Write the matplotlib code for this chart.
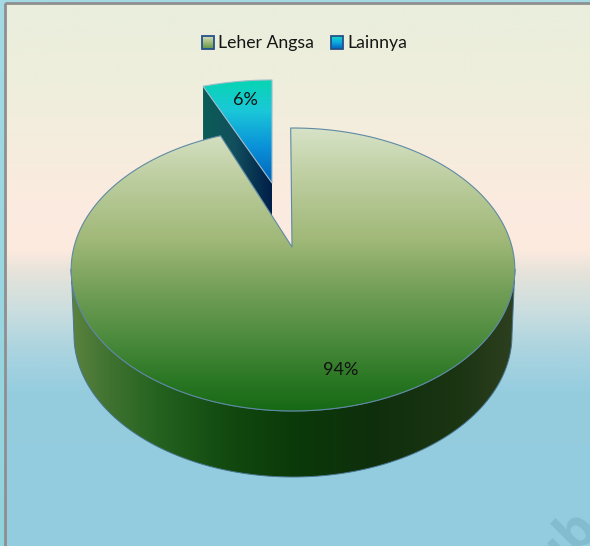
import numpy as np
import matplotlib
matplotlib.use("Agg")
import matplotlib.pyplot as plt
from matplotlib.patches import Polygon, Rectangle
from matplotlib.colors import to_rgb

categories = ["Leher Angsa", "Lainnya"]
values = [94, 6]

FONT = "Lato"
W, H = 590, 546
fig = plt.figure(figsize=(W / 100, H / 100), dpi=100)
ax = fig.add_axes([0, 0, 1, 1])


def grad(stops, n=546):
    pos = np.array([s[0] for s in stops], float)
    cols = np.array([to_rgb(s[1]) for s in stops])
    t = np.linspace(pos[0], pos[-1], n)
    return np.stack([np.interp(t, pos, cols[:, i]) for i in range(3)], axis=-1)


def vgrad(box, stops, clip=None, z=1):
    x0, x1, y0, y1 = box
    img = grad(stops)[:, None, :]
    im = ax.imshow(img, extent=[x0, x1, y1, y0], aspect="auto", zorder=z, interpolation="bilinear")
    if clip is not None:
        im.set_clip_path(clip)
    return im


def hgrad(box, stops, clip=None, z=1):
    x0, x1, y0, y1 = box
    img = grad(stops)[None, :, :]
    im = ax.imshow(img, extent=[x0, x1, y1, y0], aspect="auto", zorder=z, interpolation="bilinear")
    if clip is not None:
        im.set_clip_path(clip)
    return im


def shape(pts, z, edge="#3f6f8c", lw=0.9):
    p = Polygon(pts, closed=True, facecolor="none", edgecolor="none", transform=ax.transData)
    ax.add_patch(p)
    o = Polygon(pts, closed=True, facecolor="none", edgecolor=edge, lw=lw, zorder=z + 0.5, joinstyle="round")
    ax.add_patch(o)
    return p


def project(theta, ax0, ay0, a, c, b, r=1.0):
    u, v = r * np.sin(theta), r * np.cos(theta)
    d = 1 + b * v
    return np.column_stack([ax0 + c * u / d, ay0 - a * v / d])


# page behind the chart and the chart frame
vgrad((0, W, 0, H), [(0, "#a4dbe4"), (1, "#8fd3df")], z=0)
vgrad((6, W, 4, H), [(4, "#eaeedc"), (100, "#f0eedd"), (200, "#fbebdf"), (250, "#fdeadf"),
                     (272, "#e6e3da"), (310, "#cbdedf"), (350, "#abd4df"), (392, "#95cddf"),
                     (546, "#92ccde")], z=0.5)
ax.add_patch(Rectangle((5, 3), W, H, facecolor="none", edgecolor="#8f8f8f", lw=2, zorder=0.8))
ax.text(565, 543, "ub", rotation=45, rotation_mode="anchor", ha="center", va="center",
        fontsize=38, fontweight="bold", family="Open Sans", color="#84bccf", zorder=0.9)

# pie geometry
fracs = np.array(values, float) / sum(values)
sweep_main = 2 * np.pi * fracs[0]
sweep_other = 2 * np.pi * fracs[1]
DEPTH = 66
B = 0.159
START = np.deg2rad(-0.7)

# exploded small slice
th = np.linspace(-sweep_other, 0, 40)
arc = project(th, 272, 183, 119.4, 215, B)
apex = np.array([[272, 183]])
wall = np.vstack([arc[0], arc[0] + [0, DEPTH], apex + [0, DEPTH], apex])
hgrad((203, 272, 80, 260), [(0, "#0a5d56"), (0.45, "#124f5e"), (1, "#001e48")],
      clip=shape(wall, 2, edge="none", lw=0), z=2)
face = np.vstack([apex, arc])
vgrad((200, 275, 78, 185), [(0, "#06d6b0"), (0.3, "#1ac8d8"), (0.65, "#0a90d8"), (1, "#0060b8")],
      clip=shape(face, 3, edge="#9dbccb", lw=0.8), z=3)

# main slice
tt = np.linspace(START, START + sweep_main, 500)
main_arc = project(tt, 293, 247, 137.9, 219, B)
left = main_arc[:, 0].argmin()
right = main_arc[:, 0].argmax()
lower = main_arc[right:left + 1]
e = np.linspace(0, np.pi, 200)
bottom = np.column_stack([293 - 219 * np.cos(e), 335 + 142 * np.sin(e)])
wall_pts = np.vstack([lower, bottom])
hgrad((70, 516, 260, 480), [(0, "#5d8340"), (0.09, "#3f7230"), (0.2, "#24621f"), (0.35, "#124a10"),
                            (0.5, "#0b3a09"), (0.68, "#0f2f0c"), (0.88, "#1c3513"), (1, "#2e4020")],
      clip=shape(wall_pts, 4, edge="#47758f", lw=0.7), z=4)
top = np.vstack([[[292, 247]], main_arc])
vgrad((70, 516, 127, 412), [(127, "#d8e3c8"), (180, "#bccd9e"), (240, "#a0b878"), (290, "#739f58"),
                            (340, "#4b8a3c"), (380, "#2a7724"), (412, "#166814")],
      clip=shape(top, 5, edge="#5f8aa3", lw=0.8), z=5)

# labels
ax.text(245, 100, f"{values[1]}%", ha="center", va="center", fontsize=13, family=FONT, color="#111111", zorder=8)
ax.text(341, 370, f"{values[0]}%", ha="center", va="center", fontsize=13, family=FONT, color="#111111", zorder=8)

# legend
legend_x = [202, 331]
legend_stops = [[(0, "#d3e0bf"), (0.5, "#a0b878"), (1, "#5f9546")],
                [(0, "#10d8c8"), (0.5, "#10a8e0"), (1, "#0060b8")]]
for name, lx, st in zip(categories, legend_x, legend_stops):
    vgrad((lx, lx + 12, 36, 49), st, z=6)
    ax.add_patch(Rectangle((lx, 36), 12, 13, facecolor="none", edgecolor="#24508a", lw=1.3, zorder=7))
    ax.text(lx + 16, 43, name, ha="left", va="center", fontsize=12.7, family=FONT, color="#151515", zorder=8)

ax.set_xlim(0, W)
ax.set_ylim(H, 0)
ax.axis("off")
fig.savefig("out.png", dpi=100)
